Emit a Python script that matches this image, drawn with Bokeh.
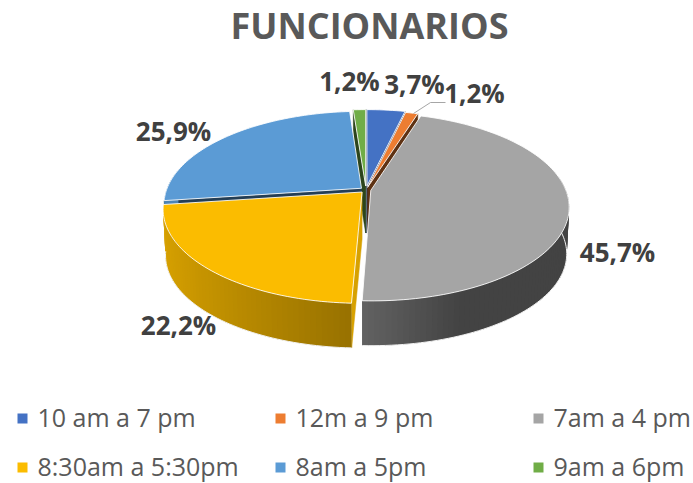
import math
from bokeh.plotting import figure
from bokeh.models import ColumnDataSource, Range1d
from bokeh.core.properties import value
from bokeh.embed import file_html
from bokeh.resources import INLINE

title = "FUNCIONARIOS"
categories = ["10 am a 7 pm", "12m a 9 pm", "7am a 4 pm", "8:30am a 5:30pm", "8am a 5pm", "9am a 6pm"]
shares = [3.7, 1.2, 45.7, 22.2, 25.9, 1.2]
labels = ["3,7%", "1,2%", "45,7%", "22,2%", "25,9%", "1,2%"]

colors = ["#4472C4", "#ED7D31", "#A5A5A5", "#FBBC00", "#5B9BD5", "#70AD47"]
explode = [0.045, 0.03, 0.025, 0.03, 0.03, 0.045]
label_xy = [(414, 83), (474, 92), (617, 251), (178, 324), (173, 130), (349, 80)]
legend_xy = [(17, 418), (275, 418), (533, 418), (17, 467), (275, 467), (533, 467)]

W, H = 693, 483
CX, CY, R, RY, K, DEPTH = 365.5, 189.5, 195.0, 91.0, 0.175, 47.0


def project(u, v, z=0.0):
    s = 1 / (1 - K * v)
    return (CX + R * u * s * (1 - 0.012 * z), CY + RY * v * s * (1 - 0.02 * z) + DEPTH * z)


def shade(u):
    if u < 0:
        return 0.59 + (-u) * 0.27
    if u < 0.4:
        return 0.59 - u / 0.4 * 0.18
    return 0.41


def scale(col, f):
    r, g, b = int(col[1:3], 16), int(col[3:5], 16), int(col[5:7], 16)
    return "#%02x%02x%02x" % (int(r * f), int(g * f), int(b * f))


p = figure(width=W, height=H, output_backend="svg", toolbar_location=None,
           x_range=Range1d(0, W), y_range=Range1d(H, 0),
           min_border=0, outline_line_color=None)
p.axis.visible = False
p.grid.visible = False

total = sum(shares)
slices = []
acc = 0.0
for i, s in enumerate(shares):
    a0 = acc / total * 2 * math.pi
    acc += s
    a1 = acc / total * 2 * math.pi
    slices.append((i, a0, a1))

# back slices first
order = [5, 0, 1, 4, 2, 3]
for i in order:
    _, a0, a1 = slices[i]
    mid = (a0 + a1) / 2
    ox, oy = explode[i] * math.sin(mid), -explode[i] * math.cos(mid)
    n = max(3, int((a1 - a0) / 0.025))
    angs = [a0 + (a1 - a0) * j / n for j in range(n + 1)]
    rim = [(ox + math.sin(a), oy - math.cos(a)) for a in angs]
    apex = (ox, oy)
    top = [project(*apex)] + [project(*q) for q in rim]
    cx_ = sum(t[0] for t in top) / len(top)
    cy_ = sum(t[1] for t in top) / len(top)

    # cut faces
    face_x, face_y = [], []
    for q in (rim[0], rim[-1]):
        A = project(*apex)
        B = project(*q)
        side_c = (B[0] - A[0]) * (cy_ - A[1]) - (B[1] - A[1]) * (cx_ - A[0])
        side_d = (B[0] - A[0]) * 1.0
        if side_c * side_d < 0:
            poly = [A, B, project(q[0], q[1], 1), project(apex[0], apex[1], 1)]
            face_x.append([t[0] for t in poly])
            face_y.append([t[1] for t in poly])
    if face_x:
        f = 0.86 if i == 3 else 0.4
        fc = scale(colors[i], f)
        p.patches(face_x, face_y, fill_color=fc, line_color=fc, line_width=0.5)

    # outer wall, shaded strip by strip; each strip overlaps the next one
    wx, wy, wc = [], [], []
    for j in range(n):
        q0, q1 = rim[j], rim[min(j + 2, n)]
        if math.cos(angs[j]) < 0.15 or math.cos(angs[j + 1]) < 0.15:
            poly = [project(*q0), project(*q1), project(q1[0], q1[1], 1), project(q0[0], q0[1], 1)]
            wx.append([t[0] for t in poly])
            wy.append([t[1] for t in poly])
            wc.append(scale(colors[i], shade((q0[0] + rim[j + 1][0]) / 2)))
    if wx:
        src = ColumnDataSource(dict(xs=wx, ys=wy, c=wc))
        p.patches("xs", "ys", source=src, fill_color="c", line_color=None)
        p.line([project(q[0], q[1], 1)[0] for q in rim if q[1] > -0.15],
               [project(q[0], q[1], 1)[1] for q in rim if q[1] > -0.15],
               line_color="#F2F2F2", line_width=1)

    p.patch([t[0] for t in top], [t[1] for t in top], fill_color=colors[i],
            line_color="#FFFFFF", line_alpha=0.85, line_width=1)

# leader line of the small orange slice
p.line([413, 430, 445], [113, 102, 102], line_color="#A6A6A6", line_width=1)

p.text([369], [25], text=[title], text_font=value("Open Sans"), text_font_style="bold",
       text_font_size="36px", text_color="#595959", text_align="center", text_baseline="middle")
p.text([q[0] for q in label_xy], [q[1] for q in label_xy], text=labels, text_font=value("Open Sans"),
       text_font_style="bold", text_font_size="26px", text_color="#404040",
       text_align="center", text_baseline="middle")

p.rect([q[0] + 5 for q in legend_xy], [q[1] for q in legend_xy], width=10, height=10,
       fill_color=colors, line_color=None)
p.text([q[0] + 20 for q in legend_xy], [q[1] - 2 for q in legend_xy], text=categories,
       text_font=value("Open Sans"), text_font_size="25px", text_color="#595959",
       text_align="left", text_baseline="middle")

open("out.html", "w").write(file_html(p, INLINE))
